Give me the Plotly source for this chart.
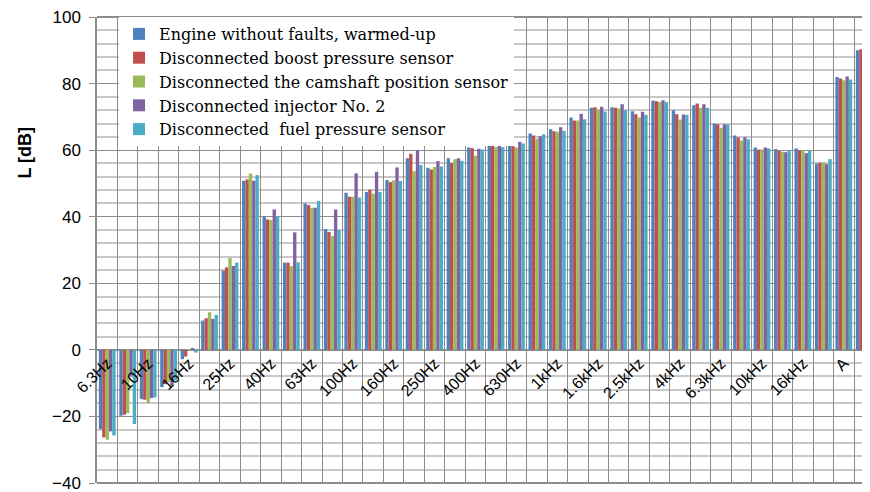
import plotly.graph_objects as go

categories = ["6.3Hz", "8Hz", "10Hz", "12.5Hz", "16Hz", "20Hz", "25Hz", "31.5Hz", "40Hz", "50Hz",
              "63Hz", "80Hz", "100Hz", "125Hz", "160Hz", "200Hz", "250Hz", "315Hz", "400Hz", "500Hz",
              "630Hz", "800Hz", "1kHz", "1.25kHz", "1.6kHz", "2kHz", "2.5kHz", "3.15kHz", "4kHz", "5kHz",
              "6.3kHz", "8kHz", "10kHz", "12.5kHz", "16kHz", "20kHz", "A", "Lin"]

tick_labels = ["6.3Hz", "", "10Hz", "", "16Hz", "", "25Hz", "", "40Hz", "",
               "63Hz", "", "100Hz", "", "160Hz", "", "250Hz", "", "400Hz", "",
               "630Hz", "", "1kHz", "", "1.6kHz", "", "2.5kHz", "", "4kHz", "",
               "6.3kHz", "", "10kHz", "", "16kHz", "", "A", ""]

series_names = ["Engine without faults, warmed-up",
                "Disconnected boost pressure sensor",
                "Disconnected the camshaft position sensor",
                "Disconnected injector No. 2",
                "Disconnected  fuel pressure sensor"]

engine_ok = [-23.8, -19.8, -14.8, -11.2, -2.8, 8.8, 23.8, 50.8, 40.0, 26.2,
             44.0, 36.3, 47.2, 47.4, 51.0, 57.6, 54.7, 57.6, 60.8, 62.0,
             63.0, 65.0, 66.3, 69.8, 72.7, 72.9, 71.7, 74.9, 72.0, 73.5,
             68.0, 64.4, 60.8, 60.3, 60.5, 55.9, 82.0, 90.0]
boost_sensor = [-26.3, -19.5, -15.0, -10.3, -2.0, 9.5, 24.8, 51.2, 39.2, 26.2,
                43.5, 35.4, 46.0, 48.1, 50.4, 58.9, 54.2, 56.1, 60.6, 61.6,
                61.2, 64.4, 65.7, 68.9, 72.9, 72.7, 70.8, 74.7, 70.8, 74.0,
                67.8, 63.8, 60.2, 59.8, 60.0, 56.2, 81.5, 90.3]
camshaft_sensor = [-27.0, -19.0, -16.0, -9.7, 0.2, 11.3, 27.6, 53.0, 39.0, 25.2,
                   42.7, 34.2, 46.0, 46.9, 50.9, 53.7, 54.9, 57.3, 58.3, 60.9,
                   60.8, 63.4, 65.5, 68.9, 72.2, 72.5, 69.8, 74.5, 69.2, 72.7,
                   66.7, 62.9, 60.2, 59.5, 60.0, 56.3, 81.0, 92.0]
injector_2 = [-24.5, -8.0, -14.5, -10.7, 0.6, 9.3, 25.2, 50.8, 42.2, 35.3,
              42.7, 42.2, 53.0, 53.5, 54.8, 60.0, 56.7, 57.6, 60.4, 61.5,
              62.5, 64.2, 66.9, 70.9, 73.0, 73.8, 71.5, 75.0, 70.7, 73.8,
              67.8, 63.9, 60.8, 59.4, 59.1, 55.8, 82.1, 90.3]
fuel_sensor = [-25.7, -22.3, -14.3, -9.2, -0.8, 10.5, 26.2, 52.5, 40.2, 26.3,
               44.7, 36.0, 45.8, 47.4, 50.7, 55.5, 55.1, 56.8, 60.2, 60.9,
               62.0, 64.8, 65.8, 69.3, 71.6, 72.0, 70.6, 74.5, 70.6, 72.7,
               67.7, 63.3, 60.5, 60.0, 59.8, 57.3, 81.2, 91.3]

colors = ["#4F81BD", "#C0504D", "#9BBB59", "#8064A2", "#4BACC6"]
all_series = [engine_ok, boost_sensor, camshaft_sensor, injector_2, fuel_sensor]

fig = go.Figure()
for name, vals, col in zip(series_names, all_series, colors):
    fig.add_trace(go.Bar(x=categories, y=vals, name=name,
                         marker=dict(color=col, line=dict(width=0))))

grid_dark = "#8c8c8c"
grid_light = "#c8c8c8"

# page body has an 8px default margin; figure is sized/offset to compensate
fig.update_layout(
    width=862, height=484,
    margin=dict(l=89.4, r=0, t=9, b=8.7, autoexpand=False),
    paper_bgcolor="white", plot_bgcolor="white",
    barmode="group", bargap=0.18, bargroupgap=0,
    showlegend=True,
    legend=dict(x=0.0285, y=1.0, xanchor="left", yanchor="top",
                bgcolor="white", borderwidth=0,
                font=dict(family="DejaVu Serif", size=16, color="black"),
                itemwidth=30, tracegroupgap=0),
    xaxis=dict(type="category", categoryorder="array", categoryarray=categories,
               range=[-0.5, 37.28], automargin=False,
               tickmode="array", tickvals=categories, ticktext=tick_labels,
               tickson="boundaries", ticks="", tickangle=-45,
               showgrid=True, gridcolor=grid_dark, gridwidth=1.3,
               anchor="free", position=40 / 140,
               showline=False, zeroline=False, ticklabeloverflow="allow",
               tickfont=dict(family="Liberation Sans", size=16, color="black")),
    yaxis=dict(range=[-40, 100], tickmode="linear", tick0=0, dtick=20, automargin=False,
               showgrid=True, gridcolor=grid_dark, gridwidth=1.3,
               minor=dict(dtick=4, showgrid=True, gridcolor=grid_light, gridwidth=1.6,
                          ticks=""),
               zeroline=True, zerolinecolor=grid_dark, zerolinewidth=1.5,
               showline=True, linecolor=grid_dark, linewidth=1.5,
               ticks="outside", ticklen=6, tickcolor=grid_dark, tickwidth=1.3,
               ticklabelstandoff=5, ticklabeloverflow="allow",
               tickfont=dict(family="Liberation Sans", size=17, color="black")),
    annotations=[
        dict(text="<b>L [dB]</b>", xref="paper", yref="paper",
             x=(25 - 97.4) / 772.6, y=(483 - 153) / 466,
             xanchor="center", yanchor="middle", textangle=-90, showarrow=False,
             font=dict(family="Liberation Sans", size=18, color="black")),
    ],
    shapes=[
        dict(type="line", xref="paper", yref="paper", x0=0, x1=1, y0=1, y1=1,
             line=dict(color=grid_dark, width=2), layer="below"),
        dict(type="line", xref="paper", yref="paper", x0=0, x1=1, y0=0, y1=0,
             line=dict(color=grid_dark, width=2), layer="below"),
    ],
)

fig.write_html("out.html")
